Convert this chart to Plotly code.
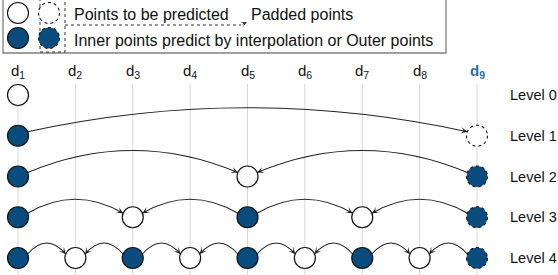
import math
import plotly.graph_objects as go

# ---------------- data ----------------
columns = ["d<sub>1</sub>", "d<sub>2</sub>", "d<sub>3</sub>", "d<sub>4</sub>", "d<sub>5</sub>",
           "d<sub>6</sub>", "d<sub>7</sub>", "d<sub>8</sub>", "<b>d<sub>9</sub></b>"]
col_index = [1, 2, 3, 4, 5, 6, 7, 8, 9]
levels = ["Level 0", "Level 1", "Level 2", "Level 3", "Level 4"]
level_index = [0, 1, 2, 3, 4]

# node kinds per level: (column, kind)
nodes_l0 = [(1, "open")]
nodes_l1 = [(1, "filled"), (9, "pad_open")]
nodes_l2 = [(1, "filled"), (5, "open"), (9, "pad_filled")]
nodes_l3 = [(1, "filled"), (3, "open"), (5, "filled"), (7, "open"), (9, "pad_filled")]
nodes_l4 = [(1, "filled"), (2, "open"), (3, "filled"), (4, "open"), (5, "filled"),
            (6, "open"), (7, "filled"), (8, "open"), (9, "pad_filled")]
nodes = [nodes_l0, nodes_l1, nodes_l2, nodes_l3, nodes_l4]

# arrows per level: (from column, to column)
arrows_l1 = [(1, 9)]
arrows_l2 = [(1, 5), (9, 5)]
arrows_l3 = [(1, 3), (5, 3), (5, 7), (9, 7)]
arrows_l4 = [(1, 2), (3, 2), (3, 4), (5, 4), (5, 6), (7, 6), (7, 8), (9, 8)]
arrows = {1: arrows_l1, 2: arrows_l2, 3: arrows_l3, 4: arrows_l4}

legend_row1 = "Points to be predicted"
legend_row2 = "Inner points predict by interpolation or Outer points"
legend_padded = "Padded points"

# ---------------- style ----------------
W, H = 558, 275
X0PX, DXPX = 18.0, 57.375
Y0PX, DYPX = 95.0, 40.75
R = 10.5
FILL = "#0b4c7e"
EDGE = "#111111"
ARC = "#222222"
BLUE = "#1a73b8"
FONT = "Liberation Sans, Arial, Helvetica, sans-serif"
arc_peak = {1: 28, 2: 26, 3: 18, 4: 15}


def px2x(p):
    return 1 + (p - X0PX) / DXPX


def px2y(p):
    return (p - Y0PX) / DYPX


def x2px(x):
    return X0PX + (x - 1) * DXPX


def y2px(y):
    return Y0PX + y * DYPX


fig = go.Figure()
shapes = []
annotations = []

# vertical guide lines
for c in col_index:
    shapes.append(dict(type="line", xref="x", yref="y", x0=c, x1=c,
                       y0=px2y(84), y1=px2y(276), layer="below",
                       line=dict(color="#d6d6d6", width=1)))

# arcs + arrowheads
for lvl, lst in arrows.items():
    yc = y2px(lvl)
    for a, b in lst:
        s = 1 if b > a else -1
        xs = x2px(a) + s * 9.7
        xe = x2px(b) - s * 9.7
        ys = ye = yc - 4
        cx = (xs + xe) / 2
        cy = 2 * (yc - arc_peak[lvl]) - ys
        path = "M {:.5f},{:.5f} Q {:.5f},{:.5f} {:.5f},{:.5f}".format(
            px2x(xs), px2y(ys), px2x(cx), px2y(cy), px2x(xe), px2y(ye))
        shapes.append(dict(type="path", xref="x", yref="y", path=path, layer="below",
                           line=dict(color=ARC, width=1.1)))
        ux, uy = xe - cx, ye - cy
        n = math.hypot(ux, uy)
        ux, uy = ux / n, uy / n
        L = 6
        annotations.append(dict(x=px2x(xe), y=px2y(ye), xref="x", yref="y",
                                ax=-ux * L, ay=-uy * L, axref="pixel", ayref="pixel",
                                text="", showarrow=True, arrowhead=3, arrowsize=1.1,
                                arrowwidth=1, arrowcolor=ARC, standoff=0))

# solid-border nodes as markers
for lvl, lst in zip(level_index, nodes):
    for c, kind in lst:
        if kind in ("open", "filled"):
            fig.add_trace(go.Scatter(
                x=[c], y=[lvl], mode="markers", hoverinfo="skip", showlegend=False,
                marker=dict(size=2 * R, color="white" if kind == "open" else FILL,
                            line=dict(color=EDGE, width=1.2))))
        else:
            shapes.append(dict(type="circle", xref="x", yref="y",
                               x0=c - R / DXPX, x1=c + R / DXPX,
                               y0=lvl - R / DYPX, y1=lvl + R / DYPX, layer="above",
                               fillcolor="white" if kind == "pad_open" else FILL,
                               line=dict(color=EDGE, width=1.1, dash="dot")))

# column labels
for c, lab in zip(col_index, columns):
    annotations.append(dict(x=c, y=px2y(71), xref="x", yref="y", text=lab,
                            showarrow=False, xanchor="center", yanchor="middle",
                            font=dict(size=15, family=FONT,
                                      color=BLUE if c == 9 else "#111111")))

# level labels
for lvl, lab in zip(level_index, levels):
    annotations.append(dict(x=px2x(508), y=lvl, xref="x", yref="y", text=lab,
                            showarrow=False, xanchor="left", yanchor="middle",
                            font=dict(size=14.5, family=FONT, color="#111111")))

# ---------------- legend box ----------------
def pcircle(cxp, cyp, fill, dash):
    return dict(type="circle", xref="x", yref="y",
                x0=px2x(cxp - R), x1=px2x(cxp + R), y0=px2y(cyp - R), y1=px2y(cyp + R),
                layer="above", fillcolor=fill,
                line=dict(color=EDGE, width=1.1, dash=dash))


shapes.append(dict(type="rect", xref="x", yref="y", x0=px2x(3), x1=px2x(446),
                   y0=px2y(-3), y1=px2y(53), layer="below", fillcolor="white",
                   line=dict(color="#808080", width=1.3)))
shapes.append(dict(type="rect", xref="x", yref="y", x0=px2x(40), x1=px2x(65),
                   y0=px2y(-3), y1=px2y(52), layer="above",
                   line=dict(color="#333333", width=1, dash="dot")))
shapes.append(pcircle(18, 13, "white", "solid"))
shapes.append(pcircle(49, 13, "white", "dot"))
shapes.append(pcircle(18, 38, FILL, "solid"))
shapes.append(pcircle(49, 38, FILL, "dot"))
shapes.append(dict(type="line", xref="x", yref="y", x0=px2x(65), x1=px2x(241),
                   y0=px2y(25), y1=px2y(25), layer="above",
                   line=dict(color="#333333", width=1, dash="dot")))
annotations.append(dict(x=px2x(247), y=px2y(22), xref="x", yref="y", ax=-6, ay=3,
                        axref="pixel", ayref="pixel", text="", showarrow=True,
                        arrowhead=3, arrowsize=1.0, arrowwidth=1, arrowcolor="#333333",
                        standoff=0))
annotations.append(dict(x=px2x(72), y=px2y(14), xref="x", yref="y", text=legend_row1,
                        showarrow=False, xanchor="left", yanchor="middle",
                        font=dict(size=16, family=FONT, color="#111111")))
annotations.append(dict(x=px2x(249), y=px2y(14), xref="x", yref="y", text=legend_padded,
                        showarrow=False, xanchor="left", yanchor="middle",
                        font=dict(size=16, family=FONT, color="#111111")))
annotations.append(dict(x=px2x(72), y=px2y(40), xref="x", yref="y", text=legend_row2,
                        showarrow=False, xanchor="left", yanchor="middle",
                        font=dict(size=16, family=FONT, color="#111111")))

fig.update_layout(
    width=W, height=H, margin=dict(l=0, r=0, t=0, b=0),
    paper_bgcolor="white", plot_bgcolor="white",
    shapes=shapes, annotations=annotations, showlegend=False,
    xaxis=dict(range=[px2x(0), px2x(W)], visible=False, fixedrange=True),
    yaxis=dict(range=[px2y(H), px2y(0)], visible=False, fixedrange=True),
)

fig.write_html("out.html", config={"displayModeBar": False},
               post_script="document.body.style.margin='0';"
                           "document.documentElement.style.overflow='hidden';")
